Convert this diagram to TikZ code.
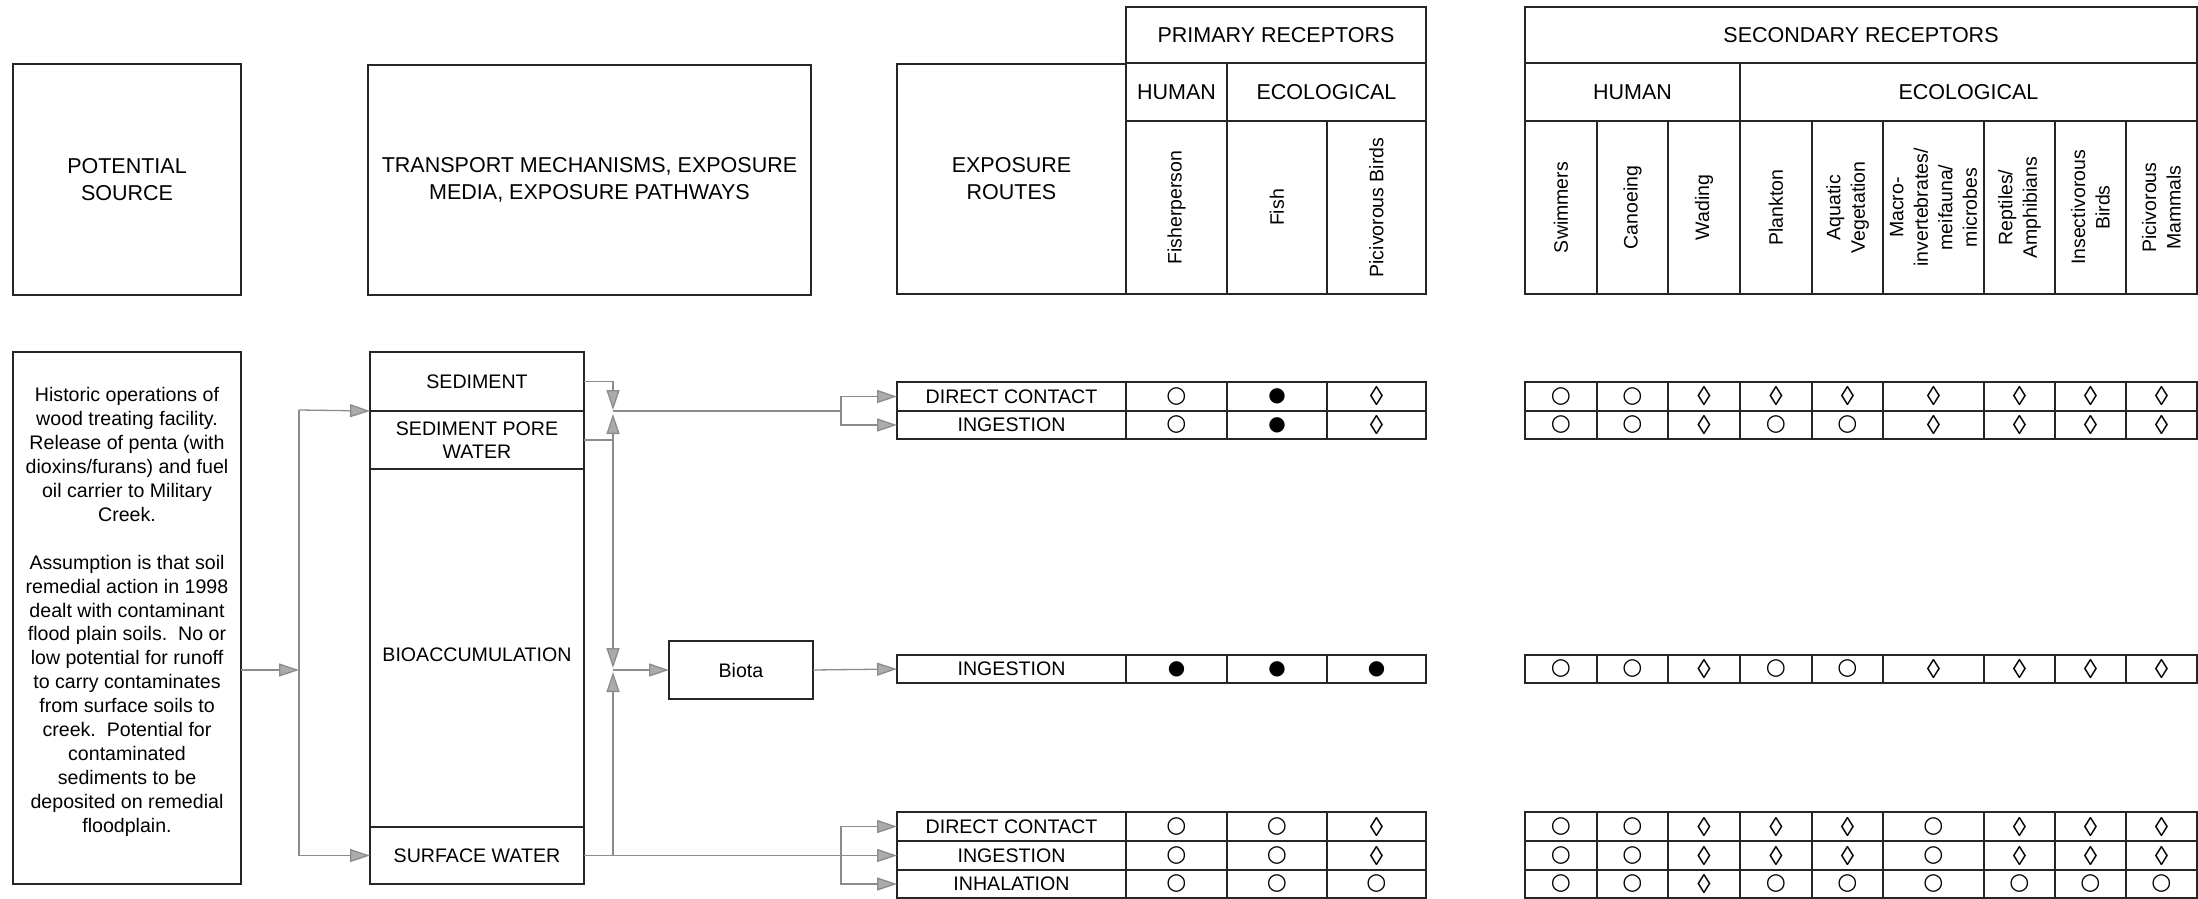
\documentclass[tikz,border=0pt]{standalone}
\usepackage{fontspec}
\setmainfont{Liberation Sans}
\newfontfamily\dejavu{DejaVu Sans}
\usetikzlibrary{arrows.meta}
\definecolor{ln}{HTML}{262626}
\definecolor{cn}{HTML}{8C8C8C}
\definecolor{ah}{HTML}{ABABAB}
\tikzset{
  cell/.style={draw=ln, line width=1.2pt, inner sep=0pt, outer sep=0pt, anchor=north west, align=center},
  hdrf/.style={font=\fontsize{21.5}{27}\selectfont},
  bodyf/.style={font=\fontsize{19.6}{23.5}\selectfont},
  vlab/.style={font=\fontsize{19.5}{24.5}\selectfont, rotate=90, align=center, inner sep=0pt},
  conn/.style={draw=cn, line width=1.3pt},
  arr/.style={conn, -{Triangle[length=20pt,width=13pt,fill=ah]}},
}
\newcommand\bx[7]{\node[cell,#6,minimum width={#4-#2},minimum height={#5-#3}] (#1) at (#2,#3) {#7};}
\newcommand\mysymo{{\dejavu\fontsize{23}{23}\selectfont ○}}
\newcommand\mysymf{{\dejavu\fontsize{20}{20}\selectfont ●}}
\newcommand\mysymd{{\fontsize{27}{27}\selectfont ◊}}
\newcommand\trow[6]{%
  \bx{#1}{897}{#2}{1126}{#3}{bodyf}{#4}
  \foreach \s [count=\i] in {#5}{%
    \pgfmathsetmacro\xa{{1126,1227,1327}[\i-1]}%
    \pgfmathsetmacro\xb{{1227,1327,1426}[\i-1]}%
    \bx{#1p\i}{\xa}{#2}{\xb}{#3}{}{\csname mysym\s\endcsname}
  }
  \foreach \s [count=\i] in {#6}{%
    \pgfmathsetmacro\xa{{1525,1597,1668,1740,1812,1883,1984,2055,2126}[\i-1]}%
    \pgfmathsetmacro\xb{{1597,1668,1740,1812,1883,1984,2055,2126,2197}[\i-1]}%
    \bx{#1s\i}{\xa}{#2}{\xb}{#3}{}{\csname mysym\s\endcsname}
  }
}
\begin{document}
\begin{tikzpicture}[x=1pt,y=-1pt]
\fill[white] (0,0) rectangle (2198,899);
\useasboundingbox (0,0) rectangle (2198,899);
% ---------- headers ----------
\bx{srch}{13}{64}{241}{295}{hdrf}{POTENTIAL\\SOURCE}
\bx{trh}{368}{65}{811}{295}{hdrf}{TRANSPORT MECHANISMS, EXPOSURE\\MEDIA, EXPOSURE PATHWAYS}
\bx{exh}{897}{64}{1126}{294}{hdrf}{EXPOSURE\\ROUTES}
\bx{prh}{1126}{7}{1426}{63}{hdrf}{PRIMARY RECEPTORS}
\bx{prhu}{1126}{63}{1227}{121}{hdrf}{HUMAN}
\bx{prec}{1227}{63}{1426}{121}{hdrf}{ECOLOGICAL}
\bx{pc1}{1126}{121}{1227}{294}{}{}
\bx{pc2}{1227}{121}{1327}{294}{}{}
\bx{pc3}{1327}{121}{1426}{294}{}{}
\node[vlab] (pl1) at (pc1.center) {Fisherperson};
\node[vlab] (pl2) at (pc2.center) {Fish};
\node[vlab] (pl3) at (pc3.center) {Picivorous Birds};
\bx{seh}{1525}{7}{2197}{63}{hdrf}{SECONDARY RECEPTORS}
\bx{sehu}{1525}{63}{1740}{121}{hdrf}{HUMAN}
\bx{seec}{1740}{63}{2197}{121}{hdrf}{ECOLOGICAL}
\bx{sc1}{1525}{121}{1597}{294}{}{}
\bx{sc2}{1597}{121}{1668}{294}{}{}
\bx{sc3}{1668}{121}{1740}{294}{}{}
\bx{sc4}{1740}{121}{1812}{294}{}{}
\bx{sc5}{1812}{121}{1883}{294}{}{}
\bx{sc6}{1883}{121}{1984}{294}{}{}
\bx{sc7}{1984}{121}{2055}{294}{}{}
\bx{sc8}{2055}{121}{2126}{294}{}{}
\bx{sc9}{2126}{121}{2197}{294}{}{}
\node[vlab] (sl1) at (sc1.center) {Swimmers};
\node[vlab] (sl2) at (sc2.center) {Canoeing};
\node[vlab] (sl3) at (sc3.center) {Wading};
\node[vlab] (sl4) at (sc4.center) {Plankton};
\node[vlab] (sl5) at (sc5.center) {Aquatic\\Vegetation};
\node[vlab] (sl6) at (sc6.center) {Macro-\\invertebrates/\\meifauna/\\microbes};
\node[vlab] (sl7) at (sc7.center) {Reptiles/\\Amphibians};
\node[vlab] (sl8) at (sc8.center) {Insectivorous\\Birds};
\node[vlab] (sl9) at (sc9.center) {Picivorous\\Mammals};
% ---------- source ----------
\bx{src}{13}{352}{241}{884}{}{}
\node[bodyf, align=center, font=\fontsize{19.6}{23.9}\selectfont] (srct) at (127,612) {Historic operations of\\wood treating facility.\\Release of penta (with\\dioxins/furans) and fuel\\oil carrier to Military\\Creek.\\[23.9pt]Assumption is that soil\\remedial action in 1998\\dealt with contaminant\\flood plain soils.\ \ No or\\low potential for runoff\\to carry contaminates\\from surface soils to\\creek.\ \ Potential for\\contaminated\\sediments to be\\deposited on remedial\\floodplain.};
% ---------- media column ----------
\bx{sed}{370}{352}{584}{411}{bodyf}{SEDIMENT}
\bx{pore}{370}{411}{584}{469}{bodyf}{SEDIMENT PORE\\WATER}
\bx{bioa}{370}{469}{584}{827}{}{}
\node[bodyf] (bioat) at (477,655) {BIOACCUMULATION};
\bx{sw}{370}{827}{584}{884}{bodyf}{SURFACE WATER}
\bx{biota}{669}{641}{813}{699}{bodyf}{Biota}
% ---------- tables ----------
\trow{r1}{382}{411}{DIRECT CONTACT}{o,f,d}{o,o,d,d,d,d,d,d,d}
\trow{r2}{411}{439}{INGESTION}{o,f,d}{o,o,d,o,o,d,d,d,d}
\trow{r3}{655}{683}{INGESTION}{f,f,f}{o,o,d,o,o,d,d,d,d}
\trow{r4}{812}{841}{DIRECT CONTACT}{o,o,d}{o,o,d,d,d,o,d,d,d}
\trow{r5}{841}{870}{INGESTION}{o,o,d}{o,o,d,d,d,o,d,d,d}
\trow{r6}{870}{898}{INHALATION}{o,o,o}{o,o,d,o,o,o,o,o,o}
% ---------- connectors ----------
\coordinate (busT) at (299,410);
\coordinate (jA) at (613,411);
\coordinate (jB) at (613,670);
\coordinate (fA) at (841,411);
\draw[conn] (busT) -- (busT |- sw.west);
\draw[arr] (src.east |- biota.west) -- (busT |- biota.west);
\draw[arr] (busT) -- (sed.south west);
\draw[arr] (busT |- sw.west) -- (sw.west);
\draw[arr] (sed.east) -| ([yshift=1pt]jA);
\draw[arr] (pore.east) -| ([yshift=-3pt]jA);
\draw[arr] (pore.east) -| ([yshift=2pt]jB);
\draw[arr] (sw.east) -| ([yshift=-2pt]jB);
\draw[arr] (jB) -- (biota.west);
\draw[conn] (jA) -- (fA);
\draw[arr] (fA) |- (r1.west);
\draw[arr] (fA) |- (r2.west);
\draw[arr] (biota.east) -- (r3.west);
\coordinate (fB) at (fA |- sw.east);
\draw[conn] (sw.east) -- (fB);
\draw[arr] (fB) |- (r4.west);
\draw[arr] (fB) -- (fB -| r5.west);
\draw[arr] (fB) |- (r6.west);
\end{tikzpicture}
\end{document}
